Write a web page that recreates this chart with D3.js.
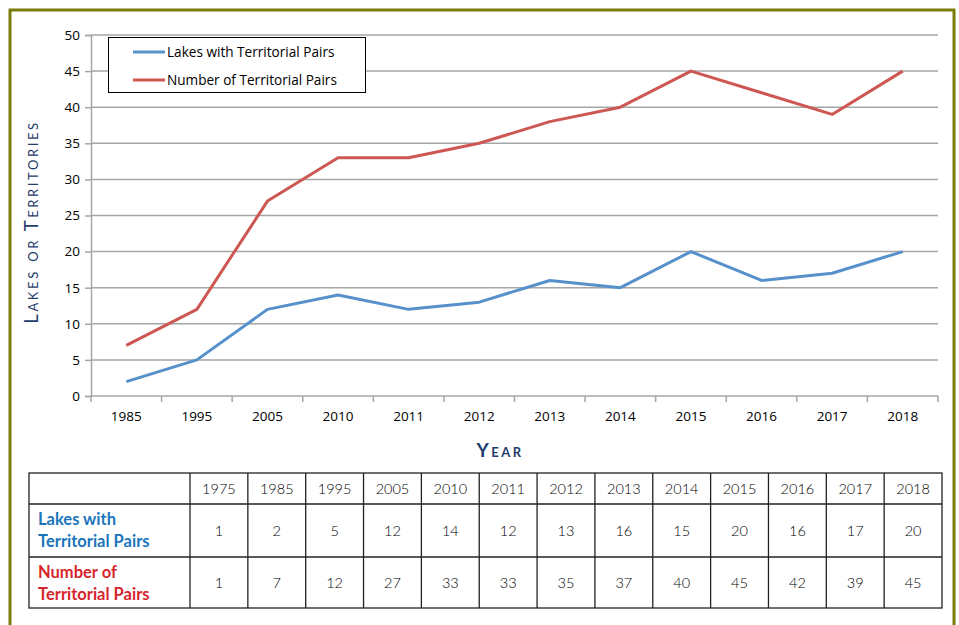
<!DOCTYPE html>
<html lang="en">
<head>
<meta charset="UTF-8">
<title>Territorial Pairs</title>
<style>
  body { margin: 0; background: #fff; }
  svg { display: block; }
</style>
<script src="https://cdn.jsdelivr.net/npm/d3@7"></script>
</head>
<body>
<script>
// chart data (as plotted)
var years = ["1985", "1995", "2005", "2010", "2011", "2012", "2013", "2014", "2015", "2016", "2017", "2018"];
var lakes = [2, 5, 12, 14, 12, 13, 16, 15, 20, 16, 17, 20];
var pairs = [7, 12, 27, 33, 33, 35, 38, 40, 45, 42, 39, 45];
var yTicks = [0, 5, 10, 15, 20, 25, 30, 35, 40, 45, 50];

// table data
var tableYears = ["1975", "1985", "1995", "2005", "2010", "2011", "2012", "2013", "2014", "2015", "2016", "2017", "2018"];
var tableLakes = [1, 2, 5, 12, 14, 12, 13, 16, 15, 20, 16, 17, 20];
var tablePairs = [1, 7, 12, 27, 33, 33, 35, 37, 40, 45, 42, 39, 45];

var seriesNames = ["Lakes with Territorial Pairs", "Number of Territorial Pairs"];
var lineColors = ["#5791cb", "#cd5753"];
var labelColors = ["#1b75bb", "#d6262d"];

var W = 959, H = 625;
var svg = d3.select("body").append("svg").attr("width", W).attr("height", H);

// olive frame
svg.append("rect")
    .attr("x", 10).attr("y", 10)
    .attr("width", 944).attr("height", 640)
    .attr("fill", "none").attr("stroke", "#7b7d0b").attr("stroke-width", 3);

var plot = {left: 91, right: 938, top: 35, bottom: 396};

var x = d3.scaleBand().domain(years).range([plot.left, plot.right]);
var y = d3.scaleLinear().domain([0, 50]).range([plot.bottom, plot.top]);

// gridlines
svg.append("g")
    .selectAll("line")
    .data(yTicks.filter(d => d > 0))
    .join("line")
    .attr("x1", plot.left).attr("x2", plot.right)
    .attr("y1", d => y(d)).attr("y2", d => y(d))
    .attr("stroke", "#a6a6a6").attr("stroke-width", 1.5);

// y axis
var yAxis = svg.append("g")
    .attr("transform", "translate(" + plot.left + ",0)")
    .call(d3.axisLeft(y).tickValues(yTicks).tickSize(6).tickPadding(5));
yAxis.select(".domain").attr("stroke", "#a6a6a6").attr("stroke-width", 1.5);
yAxis.selectAll(".tick line").attr("stroke", "#a6a6a6").attr("stroke-width", 1.5);
yAxis.selectAll("text")
    .attr("font-family", "'Open Sans', sans-serif")
    .attr("font-size", 13.5).attr("fill", "#000");

// x axis: ticks on band edges
var xAxis = svg.append("g")
    .attr("transform", "translate(0," + plot.bottom + ")");
xAxis.append("line")
    .attr("x1", plot.left).attr("x2", plot.right)
    .attr("stroke", "#a6a6a6").attr("stroke-width", 1.5);
xAxis.selectAll("line.edge")
    .data(years.concat(["end"]))
    .join("line")
    .attr("class", "edge")
    .attr("x1", (d, i) => i < years.length ? x(d) : plot.right)
    .attr("x2", (d, i) => i < years.length ? x(d) : plot.right)
    .attr("y1", 0).attr("y2", 6)
    .attr("stroke", "#a6a6a6").attr("stroke-width", 1.5);
xAxis.selectAll("text")
    .data(years)
    .join("text")
    .attr("x", d => x(d) + x.bandwidth() / 2)
    .attr("y", 25)
    .attr("text-anchor", "middle")
    .attr("font-family", "'Open Sans', sans-serif")
    .attr("font-size", 13.5).attr("fill", "#000")
    .text(d => d);

// lines
var line = d3.line()
    .x((d, i) => x(years[i]) + x.bandwidth() / 2)
    .y(d => y(d));

[lakes, pairs].forEach(function(series, k) {
    svg.append("path")
        .datum(series)
        .attr("d", line)
        .attr("fill", "none")
        .attr("stroke", lineColors[k])
        .attr("stroke-width", 3)
        .attr("stroke-linejoin", "round");
});

// legend
var legend = svg.append("g");
legend.append("rect")
    .attr("x", 108.5).attr("y", 37.5)
    .attr("width", 257).attr("height", 55)
    .attr("fill", "#fff").attr("stroke", "#000").attr("stroke-width", 1);
seriesNames.forEach(function(name, k) {
    var ly = 52 + k * 28;
    legend.append("line")
        .attr("x1", 133).attr("x2", 165)
        .attr("y1", ly).attr("y2", ly)
        .attr("stroke", lineColors[k]).attr("stroke-width", 3);
    legend.append("text")
        .attr("x", 167).attr("y", ly + 5)
        .attr("font-family", "'Open Sans', sans-serif")
        .attr("font-size", 13.6).attr("fill", "#000")
        .text(name);
});

// axis titles
svg.append("text")
    .attr("transform", "translate(38,222) rotate(-90)")
    .attr("text-anchor", "middle")
    .attr("font-family", "Lato, sans-serif")
    .attr("font-size", 18.5)
    .style("font-variant", "small-caps")
    .style("letter-spacing", "2.6px")
    .attr("fill", "#1f3d6c")
    .text("Lakes or Territories");

svg.append("text")
    .attr("x", 500).attr("y", 457)
    .attr("text-anchor", "middle")
    .attr("font-family", "Lato, sans-serif")
    .attr("font-size", 19).attr("font-weight", "bold")
    .style("font-variant", "small-caps")
    .style("letter-spacing", "2.5px")
    .attr("fill", "#1f3d6c")
    .text("Year");

// table
var tbl = {left: 29, first: 190, right: 942, rows: [473, 504, 557, 608]};
var col = d3.scaleBand().domain(tableYears).range([tbl.first, tbl.right]);
var table = svg.append("g");

table.append("rect")
    .attr("x", tbl.left).attr("y", tbl.rows[0])
    .attr("width", tbl.right - tbl.left).attr("height", tbl.rows[3] - tbl.rows[0])
    .attr("fill", "none").attr("stroke", "#222").attr("stroke-width", 1.3);
table.selectAll("line.h")
    .data([tbl.rows[1], tbl.rows[2]])
    .join("line")
    .attr("class", "h")
    .attr("x1", tbl.left).attr("x2", tbl.right)
    .attr("y1", d => d).attr("y2", d => d)
    .attr("stroke", "#222").attr("stroke-width", 1.3);
table.selectAll("line.v")
    .data(tableYears)
    .join("line")
    .attr("class", "v")
    .attr("x1", d => col(d)).attr("x2", d => col(d))
    .attr("y1", tbl.rows[0]).attr("y2", tbl.rows[3])
    .attr("stroke", "#222").attr("stroke-width", 1.3);

function cellRow(values, top, bottom) {
    table.append("g").selectAll("text")
        .data(values)
        .join("text")
        .attr("x", (d, i) => col(tableYears[i]) + col.bandwidth() / 2)
        .attr("y", (top + bottom) / 2 + 5)
        .attr("text-anchor", "middle")
        .attr("font-family", "Lato, sans-serif")
        .attr("font-size", 14.5).attr("font-weight", 300).attr("fill", "#000")
        .text(d => d);
}
cellRow(tableYears, tbl.rows[0], tbl.rows[1]);
cellRow(tableLakes, tbl.rows[1], tbl.rows[2]);
cellRow(tablePairs, tbl.rows[2], tbl.rows[3]);

var rowLabels = [["Lakes with", "Territorial Pairs"], ["Number of", "Territorial Pairs"]];
rowLabels.forEach(function(lines, k) {
    var top = tbl.rows[k + 1];
    table.append("text")
        .attr("x", 38)
        .attr("font-family", "Lato, sans-serif")
        .attr("font-size", 16.5).attr("font-weight", "bold")
        .attr("fill", labelColors[k])
        .selectAll("tspan")
        .data(lines)
        .join("tspan")
        .attr("x", 38)
        .attr("y", (d, i) => top + 21 + i * 22)
        .text(d => d);
});
</script>
</body>
</html>
